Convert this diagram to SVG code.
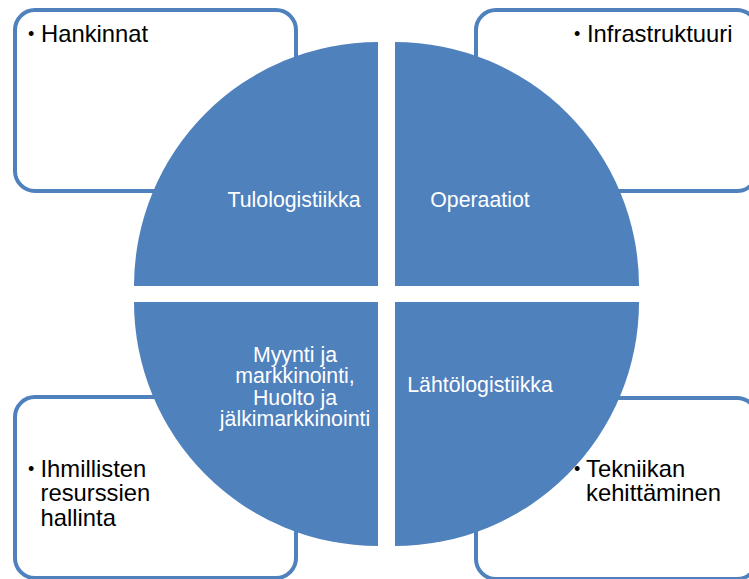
<svg xmlns="http://www.w3.org/2000/svg" width="749" height="579" viewBox="0 0 749 579">
<style>
.box{fill:#fff;stroke:#4F81BD;stroke-width:4}
.pie{fill:#4F81BD}
.ct{font-family:"Liberation Sans",Arial,sans-serif;font-size:23.8px;fill:#000}
.bu{font-family:"Liberation Sans",Arial,sans-serif;font-size:18px;fill:#000}
.it{font-family:"Liberation Sans",Arial,sans-serif;font-size:21.3px;fill:#fff}
</style>
<rect width="749" height="579" fill="#fff"/>
<g id="box-hankinnat">
<rect class="box" x="15" y="10" width="281" height="181" rx="20"/>
<text class="bu" x="28" y="40">•</text>
<text class="ct" x="41" y="41.5">Hankinnat</text>
</g>
<g id="box-infrastruktuuri">
<rect class="box" x="476" y="10" width="281" height="181" rx="20"/>
<text class="bu" x="574" y="40">•</text>
<text class="ct" x="587" y="41.5">Infrastruktuuri</text>
</g>
<g id="box-ihmillisten">
<rect class="box" x="15" y="397" width="281" height="181" rx="20"/>
<text class="bu" x="28" y="475">•</text>
<text class="ct" x="40.5" y="476.5">Ihmillisten</text>
<text class="ct" x="40.5" y="501">resurssien</text>
<text class="ct" x="40.5" y="525.5">hallinta</text>
</g>
<g id="box-tekniikan">
<rect class="box" x="476" y="398" width="281" height="181" rx="20"/>
<text class="bu" x="574" y="475">•</text>
<text class="ct" x="586" y="476.5">Tekniikan</text>
<text class="ct" x="586" y="500.5">kehittäminen</text>
</g>
<g id="tulologistiikka">
<path class="pie" d="M378,286 L134,286 A244,244 0 0 1 378,42 Z"/>
<text class="it" x="294" y="207" text-anchor="middle">Tulologistiikka</text>
</g>
<g id="operaatiot">
<path class="pie" d="M395,286 L395,42 A244,244 0 0 1 639,286 Z"/>
<text class="it" x="480" y="207" text-anchor="middle">Operaatiot</text>
</g>
<g id="myynti">
<path class="pie" d="M378,302 L378,546 A244,244 0 0 1 134,302 Z"/>
<text class="it" text-anchor="middle"><tspan x="295" y="361.5">Myynti ja</tspan><tspan x="295" y="383">markkinointi,</tspan><tspan x="295" y="404.5">Huolto ja</tspan><tspan x="295" y="426">jälkimarkkinointi</tspan></text>
</g>
<g id="lahtologistiikka">
<path class="pie" d="M395,302 L639,302 A244,244 0 0 1 395,546 Z"/>
<text class="it" x="480" y="392" text-anchor="middle">Lähtölogistiikka</text>
</g>
<g id="connectors"/>
</svg>
